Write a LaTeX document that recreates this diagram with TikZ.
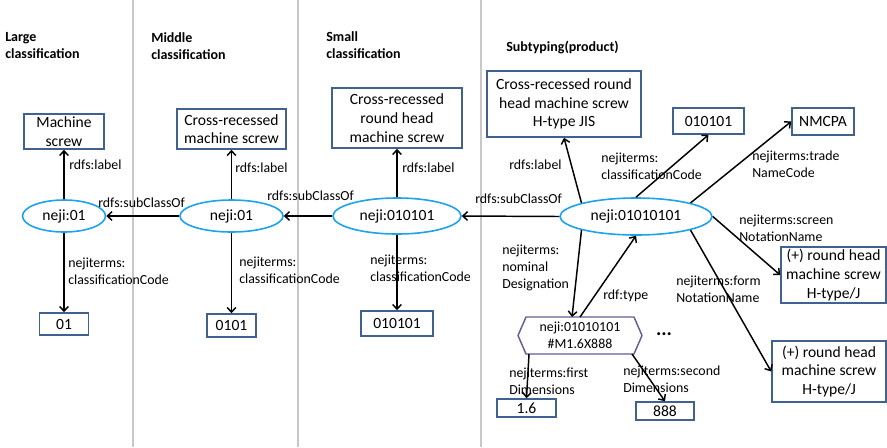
\documentclass[tikz,border=0pt]{standalone}
\usepackage{fontspec}
\setmainfont{Carlito}
\usetikzlibrary{arrows.meta,shapes.geometric}
\definecolor{boxblue}{HTML}{41628F}
\definecolor{ovalblue}{HTML}{1CA3EC}
\definecolor{hexpurple}{HTML}{6E5A94}
\definecolor{sepgray}{HTML}{C8C8C8}

\begin{document}
\begin{tikzpicture}[x=0.75pt,y=-0.75pt,
  box/.style={draw=boxblue,line width=1.2pt,rectangle,inner sep=0pt,align=center,
              font=\fontsize{11.7}{14}\selectfont},
  oval/.style={draw=ovalblue,line width=1.2pt,ellipse,inner sep=0pt,
               font=\fontsize{11.7}{14}\selectfont},
  rel/.style={-{Straight Barb[length=3.5pt,width=6.5pt]},line width=1.1pt,black},
  lbl/.style={anchor=west,inner sep=0pt,align=left,font=\fontsize{10.4}{12.5}\selectfont},
  head/.style={anchor=west,inner sep=0pt,align=left,font=\fontsize{10.5}{12.75}\selectfont\bfseries},
  sep/.style={draw=sepgray,line width=0.9pt}
]
\useasboundingbox[fill=white] (0,0) rectangle (887,447);

% column separators
\draw[sep] (133,0) -- (133,447);
\draw[sep] (298,0) -- (298,447);
\draw[sep] (481,0) -- (481,447);

% column headings
\node[head] (h1) at (5,45.5) {Large\\classification};
\node[head] (h2) at (151,46.5) {Middle\\classification};
\node[head] (h3) at (326,45.5) {Small\\classification};
\node[head] (h4) at (506,47) {Subtyping(product)};

% large classification
\node[box,minimum width=60pt,minimum height=26.25pt] (b1) at (64,131.5) {Machine\\screw};
\node[oval,minimum width=62.25pt,minimum height=24pt] (e1) at (64,216) {neji:01};
\node[box,minimum width=36.75pt,minimum height=16.5pt] (c1) at (64,324) {01};

% middle classification
\node[box,minimum width=81.75pt,minimum height=30pt] (b2) at (231.5,129) {Cross-recessed\\machine screw};
\node[oval,minimum width=77.25pt,minimum height=24pt] (e2) at (231.5,216) {neji:01};
\node[box,minimum width=36.75pt,minimum height=17.25pt] (c2) at (231.5,325.5) {0101};

% small classification
\node[box,minimum width=97.5pt,minimum height=45pt] (b3) at (397,118) {Cross-recessed\\round head\\machine screw};
\node[oval,minimum width=96pt,minimum height=27pt] (e3) at (397,216) {neji:010101};
\node[box,minimum width=54pt,minimum height=18.75pt] (c3) at (397,323.5) {010101};

% subtyping (product)
\node[box,minimum width=115.5pt,minimum height=49.5pt] (b4) at (564,104) {Cross-recessed round\\head machine screw\\H-type JIS};
\node[oval,minimum width=114pt,minimum height=27.75pt] (e4) at (636,216.5) {neji:01010101};
\node[box,minimum width=53.25pt,minimum height=19.5pt] (c4) at (708.5,121) {010101};
\node[box,minimum width=46.5pt,minimum height=20.25pt] (nm) at (823,121.5) {NMCPA};
\node[box,minimum width=78.75pt,minimum height=42pt] (r1) at (833.5,275) {(+) round head\\machine screw\\H-type/J};
\node[box,minimum width=85.5pt,minimum height=45.75pt] (r2) at (829,371.5) {(+) round head\\machine screw\\H-type/J};
\node[inner sep=0pt,outer sep=0pt,minimum width=81pt,minimum height=27.75pt,align=center,
      font=\fontsize{10.4}{12.75}\selectfont] (hx) at (580,335.5) {neji:01010101\\\#M1.6X888};
\draw[hexpurple,line width=1.1pt,line join=round]
  (hx.north west) -- ([xshift=-6pt]hx.west) -- (hx.south west) --
  (hx.south east) -- ([xshift=6pt]hx.east) -- (hx.north east) -- cycle;
\node[inner sep=0pt,font=\fontsize{15}{15}\selectfont\bfseries] (more) at (664,334) {...};
\node[box,minimum width=44.25pt,minimum height=13.5pt] (d1) at (526.5,408) {1.6};
\node[box,minimum width=43.5pt,minimum height=13.5pt] (d2) at (665,411) {888};

% connectors
\draw[rel] (e1.north) -- (b1.south);
\draw[rel] (e1.south) -- (c1.north);
\draw[rel] (e2.north) -- (b2.south);
\draw[rel] (e2.south) -- (c2.north);
\draw[rel] (e3.north) -- (b3.south);
\draw[rel] (e3.south) -- (c3.north);
\draw[rel] (e2.west) -- (e1.east);
\draw[rel] (e3.west) -- (e2.east);
\draw[rel] (e4.west) -- (e3.east);
\draw[rel] (e4.166) -- (b4.south);
\draw[rel] (e4.north) -- (c4.south);
\draw[rel] (e4.14) -- (nm.west);
\draw[rel] (e4.east) -- (r1.west);
\draw[rel] (e4.346) -- (r2.west);
\draw[rel] (e4.194) -- ([xshift=-6pt]hx.north);
\draw[rel] (hx.north) -- (e4.south);
\draw[rel] ([xshift=2.25pt]hx.south west) -- (d1.north);
\draw[rel] ([xshift=-1.5pt]hx.south east) -- (d2.north);

% connector labels
\node[lbl] (l1) at (69,165) {rdfs:label};
\node[lbl] (l2) at (235,168) {rdfs:label};
\node[lbl] (l3) at (402,168) {rdfs:label};
\node[lbl] (k1) at (68,271) {nejiterms:\\classificationCode};
\node[lbl] (k2) at (239,270) {nejiterms:\\classificationCode};
\node[lbl] (k3) at (370,268) {nejiterms:\\classificationCode};
\node[lbl] (s1) at (98,203) {rdfs:subClassOf};
\node[lbl] (s2) at (267,196) {rdfs:subClassOf};
\node[lbl] (s3) at (475,199) {rdfs:subClassOf};
\node[lbl] (l4) at (509,165) {rdfs:label};
\node[lbl] (k4) at (601,166.5) {nejiterms:\\classificationCode};
\node[lbl] (t4) at (752,164) {nejiterms:trade\\NameCode};
\node[lbl] (n4) at (739,228) {nejiterms:screen\\NotationName};
\node[lbl] (f4) at (676,289) {nejiterms:form\\NotationName};
\node[lbl] (nd) at (502,268) {nejiterms:\\nominal\\Designation};
\node[lbl] (ty) at (603,296) {rdf:type};
\node[lbl] (fd) at (509,381) {nejiterms:first\\Dimensions};
\node[lbl] (sd) at (623,379.5) {nejiterms:second\\Dimensions};
\end{tikzpicture}
\end{document}
